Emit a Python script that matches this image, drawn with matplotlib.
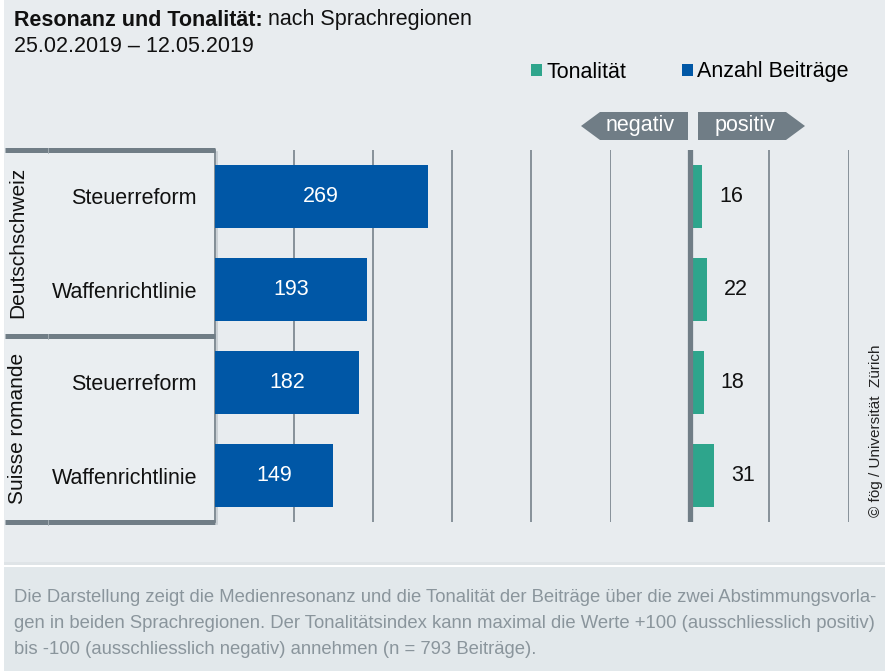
import matplotlib.pyplot as plt
from matplotlib.patches import Rectangle, Polygon

plt.rcParams['font.family'] = ['Liberation Sans', 'DejaVu Sans']

# Data
themen = ["Steuerreform", "Waffenrichtlinie", "Steuerreform", "Waffenrichtlinie"]
regionen = ["Deutschschweiz", "Suisse romande"]
anzahl = [269, 193, 182, 149]
tonalitaet = [16, 22, 18, 31]

BG = "#e8ecef"
FOOT = "#e2e8eb"
BLUE = "#0057a6"
TEAL = "#2ea58c"
DARK = "#707d86"
GRID = "#7f8a92"

W, H = 885, 671
fig = plt.figure(figsize=(W / 100, H / 100), dpi=100, facecolor="white")


def px_axes(x0, y0, x1, y1, **kw):
    # axes from pixel box (top-left origin)
    return fig.add_axes([x0 / W, 1 - y1 / H, (x1 - x0) / W, (y1 - y0) / H], **kw)


# overlay for decorations in pixel coordinates
ov = px_axes(0, 0, W, H, zorder=0)
ov.set_xlim(0, W)
ov.set_ylim(H, 0)
ov.axis("off")

ov.add_patch(Rectangle((4, 0), W - 4, 562, color=BG, lw=0))
ov.add_patch(Rectangle((4, 562), W - 4, 3, color="#dfe4e7", lw=0))
ov.add_patch(Rectangle((4, 567), W - 4, H - 567, color=FOOT, lw=0))

# title
r = fig.canvas.get_renderer()
t1 = ov.text(14, 20, "Resonanz und Tonalität:", fontsize=15.5, fontweight="bold",
             va="center", ha="left", color="#111111")
bb = t1.get_window_extent(renderer=r)
ov.text(bb.x1 + 5, 20, "nach Sprachregionen", fontsize=15.5, va="center",
        ha="left", color="#111111")
ov.text(14, 46, "25.02.2019 – 12.05.2019", fontsize=15.5, va="center", ha="left",
        color="#111111")

# negativ / positiv arrows
ov.add_patch(Polygon([(600, 112), (688, 112), (688, 140), (600, 140), (581, 126)],
                     closed=True, color=DARK, lw=0))
ov.add_patch(Polygon([(698, 112), (786, 112), (805, 126), (786, 140), (698, 140)],
                     closed=True, color=DARK, lw=0))
ov.text(640, 126, "negativ", color="white", fontsize=15.5, ha="center", va="center")
ov.text(745, 126, "positiv", color="white", fontsize=15.5, ha="center", va="center")

# left label panel
ov.add_patch(Rectangle((5, 150), 210, 372, facecolor="#eaeef1", edgecolor="none"))
ov.plot([216.5, 216.5], [152, 524], color="#c4cbd0", lw=1.2)
ov.plot([215, 215], [150, 522], color=DARK, lw=1.2)
for yy in (150, 336, 522):
    ov.plot([5, 215], [yy, yy], color=DARK, lw=3.6, solid_capstyle="butt")
    ov.plot([48, 48], [yy - 2.5, yy + 2.5], color="#aab3b9", lw=0.6)
ov.text(18, 242, regionen[0], rotation=90, fontsize=15, ha="center", va="center",
        color="#111111")
ov.text(18, 428, regionen[1], rotation=90, fontsize=15, ha="center", va="center",
        color="#111111")

# copyright
ov.text(876, 431, "© fög / Universität  Zürich", rotation=90, fontsize=11,
        ha="center", va="center", color="#222222")

# footer
foot = ["Die Darstellung zeigt die Medienresonanz und die Tonalität der Beiträge über die zwei Abstimmungsvorla-",
        "gen in beiden Sprachregionen. Der Tonalitätsindex kann maximal die Werte +100 (ausschliesslich positiv)",
        "bis -100 (ausschliesslich negativ) annehmen (n = 793 Beiträge)."]
for i, line in enumerate(foot):
    ov.text(14, 598 + 26 * i, line, fontsize=13.3, ha="left", va="center",
            color="#8a959c")

# count bars
ypos = list(range(len(themen)))
ax1 = px_axes(215, 150, 610, 522, zorder=1, facecolor="none")
b1 = ax1.barh(ypos, anzahl, height=0.667, color=BLUE, zorder=3, label="Anzahl Beiträge")
ax1.set_xlim(0, 500)
ax1.set_ylim(len(themen) - 0.5, -0.5)
ax1.set_xticks([100, 200, 300, 400])
ax1.grid(axis="x", color=GRID, lw=1.3)
ax1.set_yticks(ypos)
ax1.set_yticklabels(themen, fontsize=15.5, color="#111111")
ax1.tick_params(axis="y", length=0, pad=13)
ax1.tick_params(axis="x", length=0, labelbottom=False)
for s in ax1.spines.values():
    s.set_visible(False)
for yv, v in zip(ypos, anzahl):
    ax1.text(v / 2, yv, str(v), color="white", fontsize=15.5, ha="center", va="center",
             zorder=4)

# tonality bars
ax2 = px_axes(610, 150, 849, 522, zorder=1, facecolor="none")
b2 = ax2.barh(ypos, tonalitaet, left=0, height=0.667, color=TEAL, zorder=3,
              label="Tonalität")
ax2.set_xlim(-100, 200)
ax2.set_ylim(len(themen) - 0.5, -0.5)
ax2.set_xticks([-100, 100, 200])
ax2.grid(axis="x", color=GRID, lw=1.3)
ax2.axvline(0, color=DARK, lw=3.8, zorder=4)
ax2.set_yticks([])
ax2.tick_params(axis="x", length=0, labelbottom=False)
for s in ax2.spines.values():
    s.set_visible(False)
for yv, v in zip(ypos, tonalitaet):
    ax2.annotate(str(v), xy=(v, yv), xytext=(12, 0), textcoords="offset points",
                 fontsize=15.5, ha="left", va="center", color="#111111")

# legend
fig.legend(handles=[b2, b1], loc="center left", bbox_to_anchor=(531 / W, 1 - 72 / H),
           ncol=2, frameon=False, fontsize=15.5, handlelength=0.5, handleheight=0.5,
           handletextpad=0.2, columnspacing=2.6, borderaxespad=0, borderpad=0)

fig.savefig("out.png", dpi=100, facecolor="white")
